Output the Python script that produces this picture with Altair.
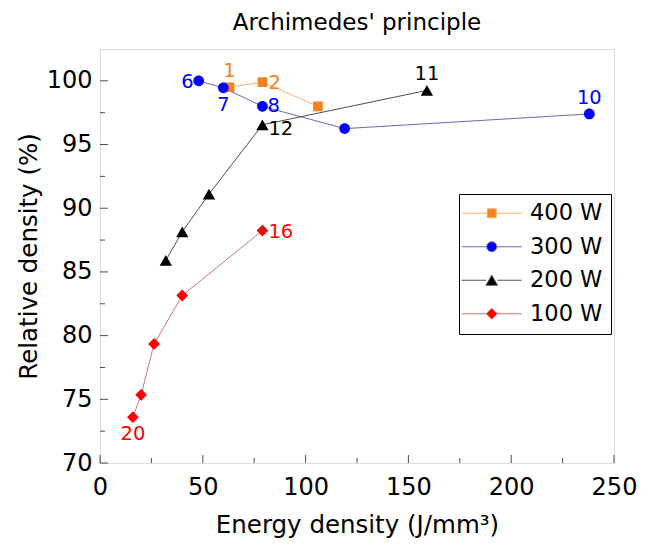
import altair as alt
import pandas as pd

# ---------------- data ----------------
series_names = ["400 W", "300 W", "200 W", "100 W"]

x_400 = [63, 79, 106]
y_400 = [99.5, 99.9, 98.0]
lab_400 = ["1", "2", ""]
pos_400 = ["above", "right", ""]

x_300 = [48, 60, 79, 119, 238]
y_300 = [100.0, 99.45, 98.0, 96.25, 97.4]
lab_300 = ["6", "7", "8", "", "10"]
pos_300 = ["left", "below", "right_high", "", "above"]

x_200 = [32, 40, 53, 79, 159]
y_200 = [85.9, 88.15, 91.1, 96.55, 99.25]
lab_200 = ["", "", "", "12", "11"]
pos_200 = ["", "", "", "right_low", "above"]

x_100 = [16, 20, 26.3, 40, 79]
y_100 = [73.6, 75.35, 79.35, 83.15, 88.25]
lab_100 = ["20", "", "", "", "16"]
pos_100 = ["below", "", "", "", "right"]

x_ticks = [0, 50, 100, 150, 200, 250]
y_ticks = [70, 75, 80, 85, 90, 95, 100]
x_minor = [25, 75, 125, 175, 225]
y_minor = [72.5, 77.5, 82.5, 87.5, 92.5, 97.5]

marker_colors = ["#F5821F", "#0000FF", "#000000", "#FF0000"]
line_colors = ["#EDB77A", "#6A6AB5", "#505050", "#C47878"]
shapes = [
    "M-6,0H-0.9M0.9,0H6M-0.9,-0.9H0.9V0.9H-0.9Z",
    "M-6,0H-1M1,0H6M-1,0A1,1 0 1,0 1,0A1,1 0 1,0 -1,0Z",
    "M-6,0H-1.1M1.1,0H6M0,-1L1.15,1H-1.15Z",
    "M-6,0H-1.1M1.1,0H6M0,-1.1L1.1,0L0,1.1L-1.1,0Z",
]

rows = []
for name, xs, ys, labs, poss in [
    ("400 W", x_400, y_400, lab_400, pos_400),
    ("300 W", x_300, y_300, lab_300, pos_300),
    ("200 W", x_200, y_200, lab_200, pos_200),
    ("100 W", x_100, y_100, lab_100, pos_100),
]:
    for xv, yv, lb, ps in zip(xs, ys, labs, poss):
        rows.append({"series": name, "E": xv, "RD": yv, "label": lb, "pos": ps})
df = pd.DataFrame(rows)

FONT = "DejaVu Sans"

xscale = alt.Scale(domain=[0, 250], nice=False, zero=False)
yscale = alt.Scale(domain=[70, 102.5], nice=False, zero=False)

X = alt.X("E:Q", scale=xscale,
          axis=alt.Axis(title="Energy density (J/mm³)", values=x_ticks, tickSize=0,
                        grid=False, domain=False, labelPadding=12, labelFontSize=24,
                        titleFontSize=24.5, titlePadding=14, labelFont=FONT,
                        titleFont=FONT, labelColor="#000", titleColor="#000",
                        titleFontWeight="normal", labelFlush=False))
Y = alt.Y("RD:Q", scale=yscale,
          axis=alt.Axis(title="Relative density (%)", values=y_ticks, tickSize=0,
                        grid=False, domain=False, labelPadding=8, labelFontSize=24,
                        titleFontSize=24.5, titlePadding=5, labelFont=FONT,
                        titleFont=FONT, labelColor="#000", titleColor="#000",
                        titleFontWeight="normal", labelFlush=False))

base = alt.Chart(df)

def fill_enc(legend=None):
    return alt.Fill("series:N", scale=alt.Scale(domain=series_names, range=marker_colors), legend=legend)

def shape_enc(legend=None):
    return alt.Shape("series:N", scale=alt.Scale(domain=series_names, range=shapes), legend=legend)

lines = base.mark_line(strokeWidth=1).encode(
    x=X, y=Y,
    color=alt.Color("series:N", scale=alt.Scale(domain=series_names, range=line_colors), legend=None),
    detail="series:N",
)

points = base.mark_point(filled=True, size=115, opacity=1, strokeWidth=0).encode(
    x="E:Q", y="RD:Q", fill=fill_enc(), shape=shape_enc(),
)

legend_def = alt.Legend(
    title=None, orient="none", legendX=359, legendY=145,
    strokeColor="#000", padding=8, fillColor="white",
    labelFont=FONT, labelFontSize=22.5, labelColor="#000",
    symbolSize=100, symbolStrokeWidth=1, symbolOffset=13.5, labelOffset=27,
    rowPadding=10.5, labelLimit=200,
)
legend_layer = base.transform_filter("datum.E < -1000").mark_point(
    filled=True, size=100, opacity=1, strokeWidth=1
).encode(
    x="E:Q", y="RD:Q",
    fill=fill_enc(legend_def),
    stroke=alt.Stroke("series:N", scale=alt.Scale(domain=series_names, range=line_colors), legend=legend_def),
    shape=shape_enc(legend_def),
)

def text_layer(pos, **kw):
    return base.transform_filter(alt.datum.pos == pos).mark_text(
        font=FONT, fontSize=19.5, baseline="middle", **kw
    ).encode(x="E:Q", y="RD:Q", text="label:N", fill=fill_enc())

t_above = text_layer("above", align="center", dy=-16)
t_below = text_layer("below", align="center", dy=17)
t_right = text_layer("right", align="left", dx=6, dy=1)
t_right_high = text_layer("right_high", align="left", dx=5, dy=-0.5)
t_right_low = text_layer("right_low", align="left", dx=6, dy=4)
t_left = text_layer("left", align="right", dx=-5, dy=1)

# inward ticks
ymaj = alt.Chart(pd.DataFrame({"v": y_ticks})).mark_tick(
    orient="horizontal", color="#000", thickness=1, size=8).encode(
    y=alt.Y("v:Q", scale=yscale), x=alt.value(4))
ymin = alt.Chart(pd.DataFrame({"v": y_minor})).mark_tick(
    orient="horizontal", color="#000", thickness=1, size=5).encode(
    y=alt.Y("v:Q", scale=yscale), x=alt.value(2.5))
xmaj = alt.Chart(pd.DataFrame({"v": x_ticks})).mark_tick(
    orient="vertical", color="#000", thickness=1, size=8).encode(
    x=alt.X("v:Q", scale=xscale), y=alt.value(414 - 4))
xmin = alt.Chart(pd.DataFrame({"v": x_minor})).mark_tick(
    orient="vertical", color="#000", thickness=1, size=5).encode(
    x=alt.X("v:Q", scale=xscale), y=alt.value(414 - 2.5))

chart = alt.layer(
    lines, points, t_above, t_below, t_right, t_right_high, t_right_low, t_left,
    ymaj, ymin, xmaj, xmin, legend_layer,
).resolve_scale(
    fill="independent", shape="independent", stroke="independent"
).resolve_legend(
    fill="independent", shape="independent", stroke="independent"
).properties(
    width=514, height=414,
    title=alt.TitleParams("Archimedes' principle", font=FONT, fontSize=23,
                          fontWeight="normal", color="#000", anchor="middle", offset=14),
    autosize=alt.AutoSizeParams(type="none"),
    padding={"left": 100, "top": 49, "right": 39, "bottom": 85},
).configure_view(
    stroke="#000", strokeWidth=1.2
).configure(background="white")

chart.save("out.html", embed_options={"renderer": "svg", "actions": False})
